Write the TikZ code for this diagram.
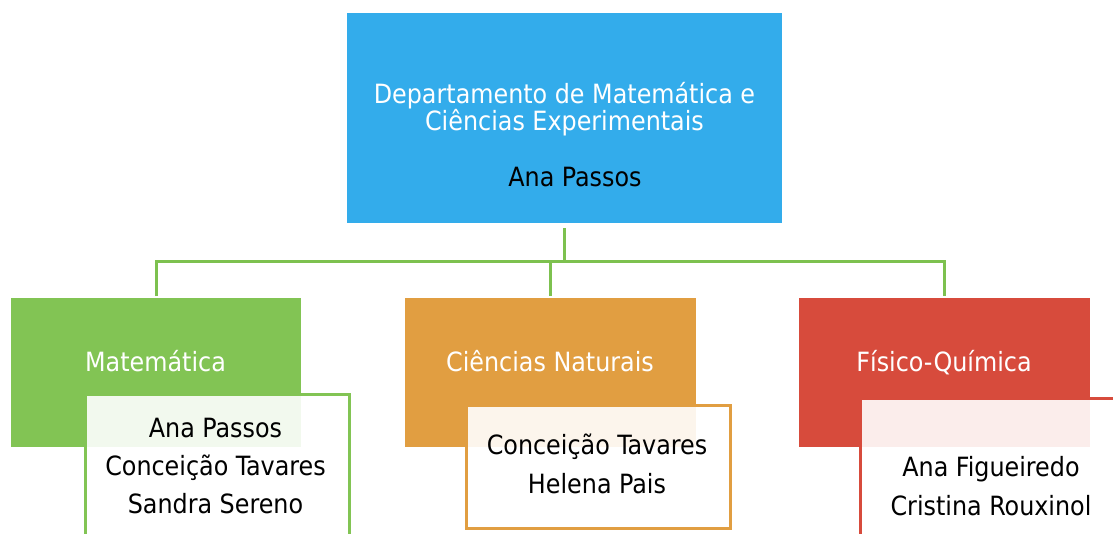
\documentclass[tikz,border=0pt]{standalone}
\usepackage{fontspec}
\setmainfont{DejaVu Sans Condensed}
\definecolor{cblue}{HTML}{33ACEB}
\definecolor{cgreen}{HTML}{82C454}
\definecolor{cline}{HTML}{7DC14F}
\definecolor{corange}{HTML}{E19E41}
\definecolor{cred}{HTML}{D74B3C}
\tikzset{
  headbox/.style={draw=none, inner sep=0pt, anchor=north west},
  namebox/.style={line width=3pt, fill=white, fill opacity=0.9, inner sep=0pt, anchor=north west},
  conn/.style={draw=cline, line width=3pt},
  wtxt/.style={text=white, anchor=base, inner sep=0pt, font=\fontsize{26.5}{30}\selectfont},
  btxt/.style={text=black, anchor=base, inner sep=0pt, font=\fontsize{26.5}{30}\selectfont},
}
\begin{document}
\begin{tikzpicture}[x=1pt,y=-1pt]
\useasboundingbox (0,0) rectangle (1113,533);
\clip (0,0) rectangle (1113,533);
% top box
\node[headbox, fill=cblue, minimum width=435pt, minimum height=210pt] (top) at (347,13) {};
\node[wtxt] (t1) at (564.5,103) {Departamento de Matemática e};
\node[wtxt] (t2) at (564.5,130) {Ciências Experimentais};
\node[btxt] (t3) at (575,186) {Ana Passos};
% child boxes
\node[headbox, fill=cgreen, minimum width=290pt, minimum height=149pt] (mat) at (11,298) {};
\node[headbox, fill=corange, minimum width=291pt, minimum height=149pt] (cn) at (405,298) {};
\node[headbox, fill=cred, minimum width=291pt, minimum height=149pt] (fq) at (799,298) {};
% connectors
\coordinate (j) at (565,261);
\draw[conn] ([yshift=-5pt]top.south) -- (top.south |- j);
\draw[conn] ([yshift=2pt]mat.north) |- (j) -| ([yshift=2pt]fq.north);
\draw[conn] ([yshift=2pt]cn.north) -- (cn.north |- j);
% titles
\node[wtxt] (matt) at (155.5,371) {Matemática};
\node[wtxt] (cnt) at (550,371) {Ciências Naturais};
\node[wtxt] (fqt) at (944,371) {Físico-Química};
% name boxes
\node[namebox, draw=cgreen, minimum width=264pt, minimum height=170pt] (matb) at (84,393) {};
\node[namebox, draw=corange, minimum width=264pt, minimum height=123pt] (cnb) at (465,404) {};
\node[namebox, draw=cred, minimum width=280pt, minimum height=170pt] (fqb) at (859,397) {};
% names
\node[btxt] (m1) at (215.5,437) {Ana Passos};
\node[btxt] (m2) at (215.5,475) {Conceição Tavares};
\node[btxt] (m3) at (215.5,513) {Sandra Sereno};
\node[btxt] (c1) at (597,454) {Conceição Tavares};
\node[btxt] (c2) at (597,493) {Helena Pais};
\node[btxt] (f1) at (991,476) {Ana Figueiredo};
\node[btxt] (f2) at (991,515) {Cristina Rouxinol};
\end{tikzpicture}
\end{document}
